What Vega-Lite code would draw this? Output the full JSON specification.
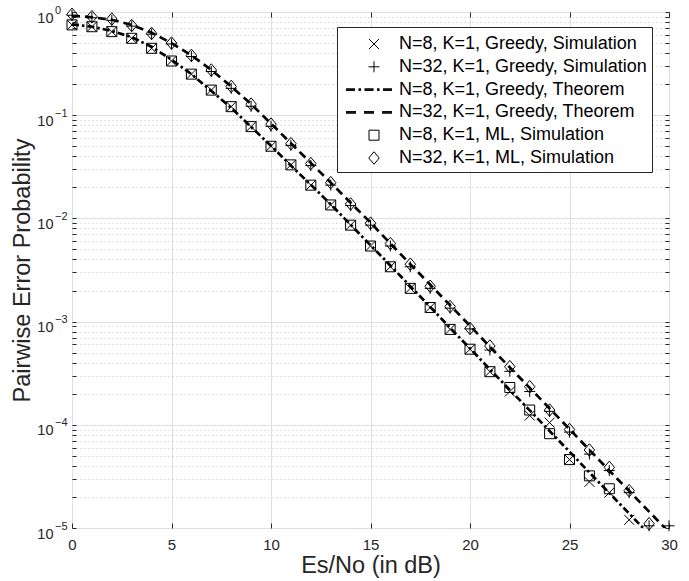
{
  "$schema": "https://vega.github.io/schema/vega-lite/v6.json",
  "width": 597,
  "height": 516,
  "autosize": "none",
  "padding": {"left": 72, "top": 12, "right": 20, "bottom": 53},
  "background": "white",
  "config": {"view": {"stroke": "#404040", "strokeWidth": 1}, "font": "Liberation Sans"},
  "datasets": {
    "theory": [
      {"series": "N=8, K=1, Greedy, Theorem", "snr": 0, "pep": 0.76},
      {"series": "N=8, K=1, Greedy, Theorem", "snr": 1, "pep": 0.72},
      {"series": "N=8, K=1, Greedy, Theorem", "snr": 2, "pep": 0.655},
      {"series": "N=8, K=1, Greedy, Theorem", "snr": 3, "pep": 0.57},
      {"series": "N=8, K=1, Greedy, Theorem", "snr": 4, "pep": 0.46},
      {"series": "N=8, K=1, Greedy, Theorem", "snr": 5, "pep": 0.345},
      {"series": "N=8, K=1, Greedy, Theorem", "snr": 6, "pep": 0.25},
      {"series": "N=8, K=1, Greedy, Theorem", "snr": 7, "pep": 0.172},
      {"series": "N=8, K=1, Greedy, Theorem", "snr": 8, "pep": 0.118},
      {"series": "N=8, K=1, Greedy, Theorem", "snr": 9, "pep": 0.077},
      {"series": "N=8, K=1, Greedy, Theorem", "snr": 10, "pep": 0.0505},
      {"series": "N=8, K=1, Greedy, Theorem", "snr": 11, "pep": 0.0325},
      {"series": "N=8, K=1, Greedy, Theorem", "snr": 12, "pep": 0.0212},
      {"series": "N=8, K=1, Greedy, Theorem", "snr": 13, "pep": 0.0137},
      {"series": "N=8, K=1, Greedy, Theorem", "snr": 14, "pep": 0.0087},
      {"series": "N=8, K=1, Greedy, Theorem", "snr": 15, "pep": 0.0055},
      {"series": "N=8, K=1, Greedy, Theorem", "snr": 16, "pep": 0.0035},
      {"series": "N=8, K=1, Greedy, Theorem", "snr": 17, "pep": 0.0022},
      {"series": "N=8, K=1, Greedy, Theorem", "snr": 18, "pep": 0.00139},
      {"series": "N=8, K=1, Greedy, Theorem", "snr": 19, "pep": 0.00087},
      {"series": "N=8, K=1, Greedy, Theorem", "snr": 20, "pep": 0.00055},
      {"series": "N=8, K=1, Greedy, Theorem", "snr": 21, "pep": 0.000345},
      {"series": "N=8, K=1, Greedy, Theorem", "snr": 22, "pep": 0.000218},
      {"series": "N=8, K=1, Greedy, Theorem", "snr": 23, "pep": 0.000138},
      {"series": "N=8, K=1, Greedy, Theorem", "snr": 24, "pep": 0.000087},
      {"series": "N=8, K=1, Greedy, Theorem", "snr": 25, "pep": 0.000055},
      {"series": "N=8, K=1, Greedy, Theorem", "snr": 26, "pep": 0.0000345},
      {"series": "N=8, K=1, Greedy, Theorem", "snr": 27, "pep": 0.0000218},
      {"series": "N=8, K=1, Greedy, Theorem", "snr": 28, "pep": 0.0000138},
      {"series": "N=8, K=1, Greedy, Theorem", "snr": 29, "pep": 0.0000087},
      {"series": "N=32, K=1, Greedy, Theorem", "snr": 0, "pep": 0.92},
      {"series": "N=32, K=1, Greedy, Theorem", "snr": 1, "pep": 0.89},
      {"series": "N=32, K=1, Greedy, Theorem", "snr": 2, "pep": 0.84},
      {"series": "N=32, K=1, Greedy, Theorem", "snr": 3, "pep": 0.75},
      {"series": "N=32, K=1, Greedy, Theorem", "snr": 4, "pep": 0.63},
      {"series": "N=32, K=1, Greedy, Theorem", "snr": 5, "pep": 0.5},
      {"series": "N=32, K=1, Greedy, Theorem", "snr": 6, "pep": 0.38},
      {"series": "N=32, K=1, Greedy, Theorem", "snr": 7, "pep": 0.275},
      {"series": "N=32, K=1, Greedy, Theorem", "snr": 8, "pep": 0.19},
      {"series": "N=32, K=1, Greedy, Theorem", "snr": 9, "pep": 0.128},
      {"series": "N=32, K=1, Greedy, Theorem", "snr": 10, "pep": 0.083},
      {"series": "N=32, K=1, Greedy, Theorem", "snr": 11, "pep": 0.0535},
      {"series": "N=32, K=1, Greedy, Theorem", "snr": 12, "pep": 0.0345},
      {"series": "N=32, K=1, Greedy, Theorem", "snr": 13, "pep": 0.0222},
      {"series": "N=32, K=1, Greedy, Theorem", "snr": 14, "pep": 0.0142},
      {"series": "N=32, K=1, Greedy, Theorem", "snr": 15, "pep": 0.0091},
      {"series": "N=32, K=1, Greedy, Theorem", "snr": 16, "pep": 0.0057},
      {"series": "N=32, K=1, Greedy, Theorem", "snr": 17, "pep": 0.0036},
      {"series": "N=32, K=1, Greedy, Theorem", "snr": 18, "pep": 0.00228},
      {"series": "N=32, K=1, Greedy, Theorem", "snr": 19, "pep": 0.00144},
      {"series": "N=32, K=1, Greedy, Theorem", "snr": 20, "pep": 0.00091},
      {"series": "N=32, K=1, Greedy, Theorem", "snr": 21, "pep": 0.00057},
      {"series": "N=32, K=1, Greedy, Theorem", "snr": 22, "pep": 0.00036},
      {"series": "N=32, K=1, Greedy, Theorem", "snr": 23, "pep": 0.000228},
      {"series": "N=32, K=1, Greedy, Theorem", "snr": 24, "pep": 0.000144},
      {"series": "N=32, K=1, Greedy, Theorem", "snr": 25, "pep": 0.000091},
      {"series": "N=32, K=1, Greedy, Theorem", "snr": 26, "pep": 0.000057},
      {"series": "N=32, K=1, Greedy, Theorem", "snr": 27, "pep": 0.000036},
      {"series": "N=32, K=1, Greedy, Theorem", "snr": 28, "pep": 0.0000228},
      {"series": "N=32, K=1, Greedy, Theorem", "snr": 29, "pep": 0.0000144},
      {"series": "N=32, K=1, Greedy, Theorem", "snr": 30, "pep": 0.0000091}
    ],
    "sim": [
      {"series": "N=8, K=1, Greedy, Simulation", "snr": 0, "pep": 0.75},
      {"series": "N=8, K=1, Greedy, Simulation", "snr": 1, "pep": 0.72},
      {"series": "N=8, K=1, Greedy, Simulation", "snr": 2, "pep": 0.645},
      {"series": "N=8, K=1, Greedy, Simulation", "snr": 3, "pep": 0.556},
      {"series": "N=8, K=1, Greedy, Simulation", "snr": 4, "pep": 0.445},
      {"series": "N=8, K=1, Greedy, Simulation", "snr": 5, "pep": 0.335},
      {"series": "N=8, K=1, Greedy, Simulation", "snr": 6, "pep": 0.25},
      {"series": "N=8, K=1, Greedy, Simulation", "snr": 7, "pep": 0.175},
      {"series": "N=8, K=1, Greedy, Simulation", "snr": 8, "pep": 0.121},
      {"series": "N=8, K=1, Greedy, Simulation", "snr": 9, "pep": 0.0775},
      {"series": "N=8, K=1, Greedy, Simulation", "snr": 10, "pep": 0.05},
      {"series": "N=8, K=1, Greedy, Simulation", "snr": 11, "pep": 0.033},
      {"series": "N=8, K=1, Greedy, Simulation", "snr": 12, "pep": 0.021},
      {"series": "N=8, K=1, Greedy, Simulation", "snr": 13, "pep": 0.0135},
      {"series": "N=8, K=1, Greedy, Simulation", "snr": 14, "pep": 0.0086},
      {"series": "N=8, K=1, Greedy, Simulation", "snr": 15, "pep": 0.0054},
      {"series": "N=8, K=1, Greedy, Simulation", "snr": 16, "pep": 0.0034},
      {"series": "N=8, K=1, Greedy, Simulation", "snr": 17, "pep": 0.0021},
      {"series": "N=8, K=1, Greedy, Simulation", "snr": 18, "pep": 0.00137},
      {"series": "N=8, K=1, Greedy, Simulation", "snr": 19, "pep": 0.00084},
      {"series": "N=8, K=1, Greedy, Simulation", "snr": 20, "pep": 0.00054},
      {"series": "N=8, K=1, Greedy, Simulation", "snr": 21, "pep": 0.000327},
      {"series": "N=8, K=1, Greedy, Simulation", "snr": 22, "pep": 0.00021},
      {"series": "N=8, K=1, Greedy, Simulation", "snr": 23, "pep": 0.000123},
      {"series": "N=8, K=1, Greedy, Simulation", "snr": 24, "pep": 0.000105},
      {"series": "N=8, K=1, Greedy, Simulation", "snr": 25, "pep": 0.000046},
      {"series": "N=8, K=1, Greedy, Simulation", "snr": 26, "pep": 0.000028},
      {"series": "N=8, K=1, Greedy, Simulation", "snr": 27, "pep": 0.000022},
      {"series": "N=8, K=1, Greedy, Simulation", "snr": 28, "pep": 0.000012},
      {"series": "N=32, K=1, Greedy, Simulation", "snr": 0, "pep": 0.93},
      {"series": "N=32, K=1, Greedy, Simulation", "snr": 1, "pep": 0.88},
      {"series": "N=32, K=1, Greedy, Simulation", "snr": 2, "pep": 0.83},
      {"series": "N=32, K=1, Greedy, Simulation", "snr": 3, "pep": 0.73},
      {"series": "N=32, K=1, Greedy, Simulation", "snr": 4, "pep": 0.61},
      {"series": "N=32, K=1, Greedy, Simulation", "snr": 5, "pep": 0.49},
      {"series": "N=32, K=1, Greedy, Simulation", "snr": 6, "pep": 0.37},
      {"series": "N=32, K=1, Greedy, Simulation", "snr": 7, "pep": 0.265},
      {"series": "N=32, K=1, Greedy, Simulation", "snr": 8, "pep": 0.182},
      {"series": "N=32, K=1, Greedy, Simulation", "snr": 9, "pep": 0.122},
      {"series": "N=32, K=1, Greedy, Simulation", "snr": 10, "pep": 0.078},
      {"series": "N=32, K=1, Greedy, Simulation", "snr": 11, "pep": 0.051},
      {"series": "N=32, K=1, Greedy, Simulation", "snr": 12, "pep": 0.0325},
      {"series": "N=32, K=1, Greedy, Simulation", "snr": 13, "pep": 0.021},
      {"series": "N=32, K=1, Greedy, Simulation", "snr": 14, "pep": 0.0133},
      {"series": "N=32, K=1, Greedy, Simulation", "snr": 15, "pep": 0.0086},
      {"series": "N=32, K=1, Greedy, Simulation", "snr": 16, "pep": 0.0054},
      {"series": "N=32, K=1, Greedy, Simulation", "snr": 17, "pep": 0.0034},
      {"series": "N=32, K=1, Greedy, Simulation", "snr": 18, "pep": 0.0021},
      {"series": "N=32, K=1, Greedy, Simulation", "snr": 19, "pep": 0.00135},
      {"series": "N=32, K=1, Greedy, Simulation", "snr": 20, "pep": 0.00085},
      {"series": "N=32, K=1, Greedy, Simulation", "snr": 21, "pep": 0.00053},
      {"series": "N=32, K=1, Greedy, Simulation", "snr": 22, "pep": 0.00033},
      {"series": "N=32, K=1, Greedy, Simulation", "snr": 23, "pep": 0.00021},
      {"series": "N=32, K=1, Greedy, Simulation", "snr": 24, "pep": 0.000135},
      {"series": "N=32, K=1, Greedy, Simulation", "snr": 25, "pep": 0.000085},
      {"series": "N=32, K=1, Greedy, Simulation", "snr": 26, "pep": 0.000052},
      {"series": "N=32, K=1, Greedy, Simulation", "snr": 27, "pep": 0.000036},
      {"series": "N=32, K=1, Greedy, Simulation", "snr": 28, "pep": 0.000022},
      {"series": "N=32, K=1, Greedy, Simulation", "snr": 29, "pep": 0.0000105},
      {"series": "N=32, K=1, Greedy, Simulation", "snr": 30, "pep": 0.0000105},
      {"series": "N=8, K=1, ML, Simulation", "snr": 0, "pep": 0.75},
      {"series": "N=8, K=1, ML, Simulation", "snr": 1, "pep": 0.72},
      {"series": "N=8, K=1, ML, Simulation", "snr": 2, "pep": 0.645},
      {"series": "N=8, K=1, ML, Simulation", "snr": 3, "pep": 0.556},
      {"series": "N=8, K=1, ML, Simulation", "snr": 4, "pep": 0.445},
      {"series": "N=8, K=1, ML, Simulation", "snr": 5, "pep": 0.335},
      {"series": "N=8, K=1, ML, Simulation", "snr": 6, "pep": 0.25},
      {"series": "N=8, K=1, ML, Simulation", "snr": 7, "pep": 0.175},
      {"series": "N=8, K=1, ML, Simulation", "snr": 8, "pep": 0.121},
      {"series": "N=8, K=1, ML, Simulation", "snr": 9, "pep": 0.0775},
      {"series": "N=8, K=1, ML, Simulation", "snr": 10, "pep": 0.05},
      {"series": "N=8, K=1, ML, Simulation", "snr": 11, "pep": 0.033},
      {"series": "N=8, K=1, ML, Simulation", "snr": 12, "pep": 0.021},
      {"series": "N=8, K=1, ML, Simulation", "snr": 13, "pep": 0.0135},
      {"series": "N=8, K=1, ML, Simulation", "snr": 14, "pep": 0.0086},
      {"series": "N=8, K=1, ML, Simulation", "snr": 15, "pep": 0.0054},
      {"series": "N=8, K=1, ML, Simulation", "snr": 16, "pep": 0.0034},
      {"series": "N=8, K=1, ML, Simulation", "snr": 17, "pep": 0.0021},
      {"series": "N=8, K=1, ML, Simulation", "snr": 18, "pep": 0.00137},
      {"series": "N=8, K=1, ML, Simulation", "snr": 19, "pep": 0.00084},
      {"series": "N=8, K=1, ML, Simulation", "snr": 20, "pep": 0.00054},
      {"series": "N=8, K=1, ML, Simulation", "snr": 21, "pep": 0.000327},
      {"series": "N=8, K=1, ML, Simulation", "snr": 22, "pep": 0.00023},
      {"series": "N=8, K=1, ML, Simulation", "snr": 23, "pep": 0.000139},
      {"series": "N=8, K=1, ML, Simulation", "snr": 24, "pep": 0.000082},
      {"series": "N=8, K=1, ML, Simulation", "snr": 25, "pep": 0.000046},
      {"series": "N=8, K=1, ML, Simulation", "snr": 26, "pep": 0.000032},
      {"series": "N=8, K=1, ML, Simulation", "snr": 27, "pep": 0.000024},
      {"series": "N=32, K=1, ML, Simulation", "snr": 0, "pep": 0.95},
      {"series": "N=32, K=1, ML, Simulation", "snr": 1, "pep": 0.9},
      {"series": "N=32, K=1, ML, Simulation", "snr": 2, "pep": 0.855},
      {"series": "N=32, K=1, ML, Simulation", "snr": 3, "pep": 0.74},
      {"series": "N=32, K=1, ML, Simulation", "snr": 4, "pep": 0.62},
      {"series": "N=32, K=1, ML, Simulation", "snr": 5, "pep": 0.5},
      {"series": "N=32, K=1, ML, Simulation", "snr": 6, "pep": 0.38},
      {"series": "N=32, K=1, ML, Simulation", "snr": 7, "pep": 0.274},
      {"series": "N=32, K=1, ML, Simulation", "snr": 8, "pep": 0.19},
      {"series": "N=32, K=1, ML, Simulation", "snr": 9, "pep": 0.128},
      {"series": "N=32, K=1, ML, Simulation", "snr": 10, "pep": 0.082},
      {"series": "N=32, K=1, ML, Simulation", "snr": 11, "pep": 0.053},
      {"series": "N=32, K=1, ML, Simulation", "snr": 12, "pep": 0.034},
      {"series": "N=32, K=1, ML, Simulation", "snr": 13, "pep": 0.0222},
      {"series": "N=32, K=1, ML, Simulation", "snr": 14, "pep": 0.0138},
      {"series": "N=32, K=1, ML, Simulation", "snr": 15, "pep": 0.009},
      {"series": "N=32, K=1, ML, Simulation", "snr": 16, "pep": 0.0057},
      {"series": "N=32, K=1, ML, Simulation", "snr": 17, "pep": 0.0036},
      {"series": "N=32, K=1, ML, Simulation", "snr": 18, "pep": 0.0022},
      {"series": "N=32, K=1, ML, Simulation", "snr": 19, "pep": 0.0014},
      {"series": "N=32, K=1, ML, Simulation", "snr": 20, "pep": 0.00086},
      {"series": "N=32, K=1, ML, Simulation", "snr": 21, "pep": 0.00058},
      {"series": "N=32, K=1, ML, Simulation", "snr": 22, "pep": 0.000366},
      {"series": "N=32, K=1, ML, Simulation", "snr": 23, "pep": 0.000234},
      {"series": "N=32, K=1, ML, Simulation", "snr": 24, "pep": 0.000139},
      {"series": "N=32, K=1, ML, Simulation", "snr": 25, "pep": 0.00009},
      {"series": "N=32, K=1, ML, Simulation", "snr": 26, "pep": 0.000057},
      {"series": "N=32, K=1, ML, Simulation", "snr": 27, "pep": 0.0000387},
      {"series": "N=32, K=1, ML, Simulation", "snr": 28, "pep": 0.000023},
      {"series": "N=32, K=1, ML, Simulation", "snr": 29, "pep": 0.000011}
    ]
  },
  "layer": [
    {
      "data": {"name": "theory"},
      "mark": {"type": "line", "clip": true, "strokeWidth": 2.7, "color": "black"},
      "encoding": {
        "x": {
          "field": "snr", "type": "quantitative",
          "scale": {"domain": [0, 30], "nice": false, "zero": false},
          "axis": {
            "orient": "bottom", "values": [0, 5, 10, 15, 20, 25, 30],
            "title": "Es/No (in dB)", "titleFont": "Liberation Sans", "titleFontSize": 23.5,
            "titleFontWeight": "normal", "titleColor": "#262626",
            "titleY": 44, "titleBaseline": "alphabetic",
            "labelFont": "Liberation Sans", "labelFontSize": 15, "labelColor": "#262626",
            "labelPadding": 14, "labelFlush": false, "labelOverlap": false,
            "tickSize": -5, "tickColor": "#262626", "tickWidth": 1,
            "domain": false, "grid": true, "gridColor": "#dfdfdf", "gridWidth": 1
          }
        },
        "y": {
          "field": "pep", "type": "quantitative",
          "scale": {"type": "log", "domain": [0.00001, 1], "nice": false},
          "axis": {
            "orient": "left",
            "values": [1, 0.9, 0.8, 0.7, 0.6, 0.5, 0.4, 0.3, 0.2, 0.1, 0.09, 0.08, 0.07, 0.06, 0.05, 0.04, 0.03, 0.02, 0.01, 0.009, 0.008, 0.007, 0.006, 0.005, 0.004, 0.003, 0.002, 0.001, 0.0009, 0.0008, 0.0007, 0.0006, 0.0005, 0.0004, 0.0003, 0.0002, 0.0001, 0.00009, 0.00008, 0.00007, 0.00006, 0.00005, 0.00004, 0.00003, 0.00002, 0.00001],
            "labelExpr": "indexof([1, 0.1, 0.01, 0.001, 0.0001, 0.00001], datum.value) >= 0 ? '10' : ''",
            "title": "Pairwise Error Probability", "titleFont": "Liberation Sans", "titleFontSize": 23.5,
            "titleFontWeight": "normal", "titleColor": "#262626",
            "titleX": -42.5, "titleY": 258, "titleBaseline": "alphabetic", "titleAngle": -90,
            "labelFont": "Liberation Sans", "labelFontSize": 14.5, "labelColor": "#262626",
            "labelPadding": 23, "labelOffset": 10, "labelBaseline": "alphabetic", "labelAlign": "right",
            "labelFlush": false, "labelOverlap": false, "labelBound": false,
            "tickSize": -4, "tickColor": "#262626", "tickWidth": 1,
            "domain": false, "grid": true,
            "gridColor": {"condition": {"test": "indexof([1, 0.1, 0.01, 0.001, 0.0001, 0.00001], datum.value) >= 0", "value": "#dfdfdf"}, "value": "#c4c4c4"},
            "gridDash": {"condition": {"test": "indexof([1, 0.1, 0.01, 0.001, 0.0001, 0.00001], datum.value) >= 0", "value": []}, "value": [1, 3]}
          }
        },
        "strokeDash": {
          "field": "series", "type": "nominal",
          "scale": {"domain": ["N=8, K=1, Greedy, Theorem", "N=32, K=1, Greedy, Theorem"], "range": [[7, 3, 2.5, 3], [8, 5]]},
          "legend": null
        }
      }
    },
    {
      "data": {"name": "sim"},
      "transform": [{"filter": "indexof(datum.series, 'Greedy') >= 0"}],
      "mark": {"type": "point", "filled": false, "strokeWidth": 1, "color": "black", "size": 100, "opacity": 1},
      "encoding": {
        "x": {
          "field": "snr", "type": "quantitative",
          "axis": {"orient": "top", "values": [0, 5, 10, 15, 20, 25, 30], "labels": false, "title": null, "domain": false, "grid": false, "tickSize": -5, "tickColor": "#262626"}
        },
        "y": {
          "field": "pep", "type": "quantitative",
          "axis": {
            "orient": "right",
            "values": [1, 0.9, 0.8, 0.7, 0.6, 0.5, 0.4, 0.3, 0.2, 0.1, 0.09, 0.08, 0.07, 0.06, 0.05, 0.04, 0.03, 0.02, 0.01, 0.009, 0.008, 0.007, 0.006, 0.005, 0.004, 0.003, 0.002, 0.001, 0.0009, 0.0008, 0.0007, 0.0006, 0.0005, 0.0004, 0.0003, 0.0002, 0.0001, 0.00009, 0.00008, 0.00007, 0.00006, 0.00005, 0.00004, 0.00003, 0.00002, 0.00001],
            "labels": false, "title": null, "domain": false, "grid": false, "tickSize": -4, "tickColor": "#262626"
          }
        },
        "shape": {
          "field": "series", "type": "nominal",
          "scale": {
            "domain": ["N=8, K=1, Greedy, Simulation", "N=32, K=1, Greedy, Simulation", "N=8, K=1, Greedy, Theorem", "N=32, K=1, Greedy, Theorem", "N=8, K=1, ML, Simulation", "N=32, K=1, ML, Simulation"],
            "range": [
              "M-1,-1L1,1M-1,1L1,-1",
              "M-1.1,0L1.1,0M0,-1.1L0,1.1",
              "M-5.6,-0.17L-3.8,-0.17M-5.6,0L-3.8,0M-5.6,0.17L-3.8,0.17M-3.1,-0.17L-2.6,-0.17M-3.1,0L-2.6,0M-3.1,0.17L-2.6,0.17M-1.9,-0.17L-0.1,-0.17M-1.9,0L-0.1,0M-1.9,0.17L-0.1,0.17M0.6,-0.17L1.1,-0.17M0.6,0L1.1,0M0.6,0.17L1.1,0.17M1.8,-0.17L3.6,-0.17M1.8,0L3.6,0M1.8,0.17L3.6,0.17",
              "M-5.6,-0.17L-3.6,-0.17M-5.6,0L-3.6,0M-5.6,0.17L-3.6,0.17M-2,-0.17L0,-0.17M-2,0L0,0M-2,0.17L0,0.17M1.6,-0.17L3.6,-0.17M1.6,0L3.6,0M1.6,0.17L3.6,0.17",
              "square",
              "M0,-1.25L1.05,0L0,1.25L-1.05,0Z"
            ]
          },
          "legend": {
            "orient": "none", "legendX": 265, "legendY": 15, "title": " ", "titleFontSize": 1, "titlePadding": 2,
            "labelFont": "Liberation Sans", "labelFontSize": 18, "labelColor": "black", "labelLimit": 400,
            "labelOffset": 16, "symbolOffset": 23,
            "symbolSize": 100, "symbolStrokeWidth": 1, "symbolStrokeColor": "black", "symbolFillColor": "transparent", "symbolOpacity": 1,
            "strokeColor": "#262626", "fillColor": "white", "padding": 5, "rowPadding": 4.8
          }
        }
      }
    },
    {
      "data": {"name": "sim"},
      "transform": [{"filter": "indexof(datum.series, 'ML') >= 0"}],
      "mark": {"type": "point", "filled": false, "strokeWidth": 1, "color": "black", "size": 100, "opacity": 1},
      "encoding": {
        "x": {"field": "snr", "type": "quantitative", "axis": null},
        "y": {
          "field": "pep", "type": "quantitative",
          "axis": {
            "orient": "left",
            "values": [1, 0.1, 0.01, 0.001, 0.0001, 0.00001],
            "labelExpr": "datum.value == 1 ? '0' : datum.value == 0.1 ? '−1' : datum.value == 0.01 ? '−2' : datum.value == 0.001 ? '−3' : datum.value == 0.0001 ? '−4' : '−5'",
            "labelFont": "Liberation Sans", "labelFontSize": 11, "labelColor": "#262626",
            "labelAlign": "left", "labelBaseline": "alphabetic", "labelPadding": 17.5, "labelOffset": 1,
            "labelFlush": false, "labelOverlap": false, "labelBound": false,
            "ticks": false, "title": null, "domain": false, "grid": false
          }
        },
        "shape": {
          "field": "series", "type": "nominal",
          "scale": {
            "domain": ["N=8, K=1, Greedy, Simulation", "N=32, K=1, Greedy, Simulation", "N=8, K=1, Greedy, Theorem", "N=32, K=1, Greedy, Theorem", "N=8, K=1, ML, Simulation", "N=32, K=1, ML, Simulation"],
            "range": [
              "M-1,-1L1,1M-1,1L1,-1",
              "M-1.1,0L1.1,0M0,-1.1L0,1.1",
              "M-5.6,-0.17L-3.8,-0.17M-5.6,0L-3.8,0M-5.6,0.17L-3.8,0.17M-3.1,-0.17L-2.6,-0.17M-3.1,0L-2.6,0M-3.1,0.17L-2.6,0.17M-1.9,-0.17L-0.1,-0.17M-1.9,0L-0.1,0M-1.9,0.17L-0.1,0.17M0.6,-0.17L1.1,-0.17M0.6,0L1.1,0M0.6,0.17L1.1,0.17M1.8,-0.17L3.6,-0.17M1.8,0L3.6,0M1.8,0.17L3.6,0.17",
              "M-5.6,-0.17L-3.6,-0.17M-5.6,0L-3.6,0M-5.6,0.17L-3.6,0.17M-2,-0.17L0,-0.17M-2,0L0,0M-2,0.17L0,0.17M1.6,-0.17L3.6,-0.17M1.6,0L3.6,0M1.6,0.17L3.6,0.17",
              "square",
              "M0,-1.25L1.05,0L0,1.25L-1.05,0Z"
            ]
          },
          "legend": {
            "orient": "none", "legendX": 265, "legendY": 15, "title": " ", "titleFontSize": 1, "titlePadding": 2,
            "labelFont": "Liberation Sans", "labelFontSize": 18, "labelColor": "black", "labelLimit": 400,
            "labelOffset": 16, "symbolOffset": 23,
            "symbolSize": 100, "symbolStrokeWidth": 1, "symbolStrokeColor": "black", "symbolFillColor": "transparent", "symbolOpacity": 1,
            "strokeColor": "#262626", "fillColor": "white", "padding": 5, "rowPadding": 4.8
          }
        }
      }
    }
  ],
  "resolve": {"axis": {"x": "independent", "y": "independent"}}
}
